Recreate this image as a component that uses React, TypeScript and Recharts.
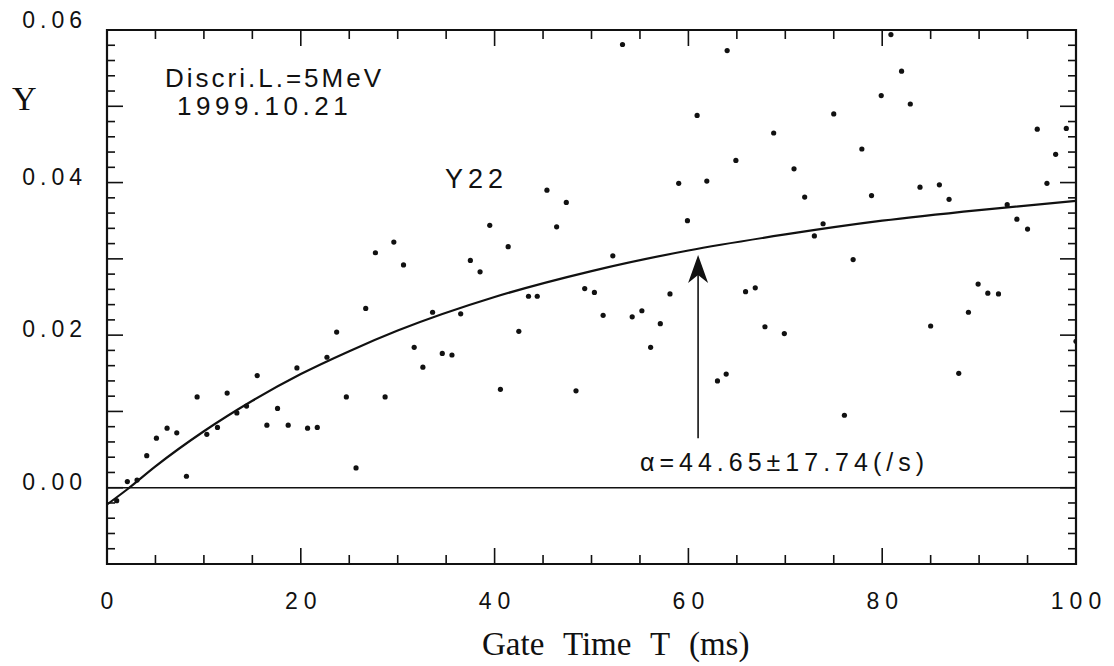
import {
  ComposedChart,
  Line,
  ReferenceArea,
  ReferenceLine,
  Scatter,
  XAxis,
  YAxis,
} from "recharts";

// gate time T (ms) of each measured point
const gateTime = [
  1.0, 2.1, 3.1, 4.1, 5.1, 6.2, 7.2, 8.2, 9.3, 10.3, 11.4, 12.4, 13.4, 14.4, 15.5, 16.5, 17.6,
  18.7, 19.6, 20.7, 21.7, 22.7, 23.7, 24.7, 25.7, 26.7, 27.7, 28.7, 29.6, 30.6, 31.7, 32.6, 33.6,
  34.6, 35.6, 36.5, 37.5, 38.5, 39.5, 40.6, 41.4, 42.5, 43.5, 44.4, 45.4, 46.4, 47.4, 48.4, 49.3,
  50.3, 51.2, 52.2, 53.2, 54.2, 55.2, 56.1, 57.1, 58.1, 59.0, 59.9, 60.9, 61.9, 63.0, 63.9, 64.0,
  64.9, 65.9, 66.9, 67.9, 68.8, 69.9, 70.9, 72.0, 73.0, 73.9, 75.0, 76.1, 77.0, 77.9, 78.9, 79.9,
  80.9, 82.0, 82.9, 83.9, 85.0, 85.9, 86.9, 87.9, 88.9, 89.9, 90.9, 92.0, 92.9, 93.9, 95.0, 96.0,
  97.0, 97.9, 99.0, 100.0,
];

// measured Y22 values
const y22 = [
  -0.0017, 0.0008, 0.001, 0.0042, 0.0065, 0.0078, 0.0072, 0.0015, 0.0119, 0.007, 0.0079, 0.0124,
  0.0098, 0.0107, 0.0147, 0.0082, 0.0104, 0.0082, 0.0157, 0.0078, 0.0079, 0.0171, 0.0204, 0.0119,
  0.0026, 0.0235, 0.0308, 0.0119, 0.0322, 0.0292, 0.0184, 0.0158, 0.023, 0.0176, 0.0174, 0.0228,
  0.0298, 0.0283, 0.0344, 0.0129, 0.0316, 0.0205, 0.0251, 0.0251, 0.039, 0.0342, 0.0374, 0.0127,
  0.0261, 0.0256, 0.0226, 0.0304, 0.0581, 0.0224, 0.0232, 0.0184, 0.0215, 0.0254, 0.0399, 0.035,
  0.0488, 0.0402, 0.014, 0.0149, 0.0573, 0.0429, 0.0257, 0.0262, 0.0211, 0.0465, 0.0202, 0.0418,
  0.0381, 0.033, 0.0346, 0.049, 0.0095, 0.0299, 0.0444, 0.0383, 0.0514, 0.0594, 0.0546, 0.0503,
  0.0394, 0.0212, 0.0397, 0.0378, 0.015, 0.023, 0.0267, 0.0255, 0.0254, 0.0371, 0.0352, 0.0339,
  0.047, 0.0399, 0.0437, 0.0471, 0.0192,
];

// fitted curve
const fitTime = [0, 2, 5, 10, 15, 20, 25, 30, 40, 50, 60, 70, 80, 90, 100];
const fitY = [
  -0.0022, -0.0003, 0.0028, 0.0074, 0.0114, 0.0149, 0.0179, 0.0206, 0.025, 0.0284, 0.0311,
  0.0332, 0.035, 0.0364, 0.0376,
];

const xTicks = Array.from({ length: 21 }, (_, i) => i * 5);
const yTicks = Array.from({ length: 36 }, (_, i) => Math.round((-0.01 + i * 0.002) * 1000) / 1000);
const yLabelled = [0, 0.02, 0.04, 0.06];

// arrow pointing at the curve
const arrowT = 61;
const arrowFrom = 0.0065;
const arrowTo = 0.0305;

const W = 1106;
const H = 658;
const PLOT_W = 969;
const PLOT_H = 534;
const SANS = "'Liberation Sans', Arial, sans-serif";
const SERIF = "'Liberation Serif', 'Times New Roman', serif";
const INK = "#111";

const points = gateTime.map((x, i) => ({ x, y: y22[i] }));
const fit = fitTime.map((x, i) => ({ x, y: fitY[i] }));

function XTick(props: any) {
  const { x, y, payload } = props;
  const v = payload.value as number;
  const major = v % 20 === 0;
  const len = major ? 16 : 9;
  return (
    <g>
      <line x1={x} y1={y} x2={x} y2={y - len} stroke={INK} strokeWidth={1.6} />
      <line x1={x} y1={y - PLOT_H} x2={x} y2={y - PLOT_H + len} stroke={INK} strokeWidth={1.6} />
      {major && (
        <text
          x={x + 3}
          y={y + 45}
          textAnchor="middle"
          fontFamily={SANS}
          fontSize={23}
          letterSpacing={6}
          fill={INK}
        >
          {v}
        </text>
      )}
    </g>
  );
}

function YTick(props: any) {
  const { x, y, payload } = props;
  const v = payload.value as number;
  const major = Math.abs(Math.round(v * 100) - v * 100) < 1e-6;
  const len = major ? 16 : 8;
  const labelled = yLabelled.some((l) => Math.abs(l - v) < 1e-9);
  return (
    <g>
      <line x1={x} y1={y} x2={x + len} y2={y} stroke={INK} strokeWidth={1.6} />
      <line x1={x + PLOT_W} y1={y} x2={x + PLOT_W - len} y2={y} stroke={INK} strokeWidth={1.6} />
      {labelled && (
        <text
          x={x - 20}
          y={y + (v === 0.06 ? -2 : 2)}
          textAnchor="end"
          fontFamily={SANS}
          fontSize={23}
          letterSpacing={5}
          fill={INK}
        >
          {v.toFixed(2)}
        </text>
      )}
    </g>
  );
}

function Arrow(props: any) {
  const { x1, y1, x2, y2 } = props;
  return (
    <g>
      <line x1={x1} y1={y1} x2={x2} y2={y2 + 18} stroke={INK} strokeWidth={1.6} />
      <polygon
        points={`${x2},${y2} ${x2 - 10},${y2 + 28} ${x2},${y2 + 20} ${x2 + 10},${y2 + 28}`}
        fill={INK}
      />
    </g>
  );
}

export default function App() {
  return (
    <div style={{ position: "relative", width: W, height: H, background: "#fff" }}>
      <ComposedChart
        width={W}
        height={H}
        margin={{ top: 22, right: 38, bottom: 42, left: 19 }}
      >
        <XAxis
          dataKey="x"
          type="number"
          domain={[0, 100]}
          ticks={xTicks}
          interval={0}
          tick={XTick}
          tickSize={0}
          tickMargin={0}
          tickLine={false}
          axisLine={false}
          height={60}
          allowDataOverflow
        />
        <YAxis
          dataKey="y"
          type="number"
          domain={[-0.01, 0.06]}
          ticks={yTicks}
          interval={0}
          tick={YTick}
          tickSize={0}
          tickMargin={0}
          tickLine={false}
          axisLine={false}
          width={80}
          allowDataOverflow
        />
        <ReferenceArea
          x1={0}
          x2={100}
          y1={-0.01}
          y2={0.06}
          fill="none"
          stroke={INK}
          strokeWidth={2.2}
          ifOverflow="visible"
        />
        <ReferenceLine y={0} stroke={INK} strokeWidth={1.5} />
        <Line
          data={fit}
          dataKey="y"
          type="monotone"
          stroke={INK}
          strokeWidth={2.2}
          dot={false}
          activeDot={false}
          isAnimationActive={false}
        />
        <Scatter
          data={points}
          dataKey="y"
          fill={INK}
          shape={(p: any) => <circle cx={p.cx} cy={p.cy} r={2.6} fill={INK} />}
          isAnimationActive={false}
        />
        <ReferenceLine
          segment={[
            { x: arrowT, y: arrowFrom },
            { x: arrowT, y: arrowTo },
          ]}
          shape={Arrow}
        />
      </ComposedChart>
      <svg
        width={W}
        height={H}
        style={{ position: "absolute", left: 0, top: 0, pointerEvents: "none" }}
      >
        <text x={157} y={79} fontFamily={SANS} fontSize={26} letterSpacing={3} fill={INK}>
          Discri.L.=5MeV
        </text>
        <text x={169} y={107} fontFamily={SANS} fontSize={26} letterSpacing={4.5} fill={INK}>
          1999.10.21
        </text>
        <text x={437} y={180} fontFamily={SANS} fontSize={27} letterSpacing={5} fill={INK}>
          Y22
        </text>
        <text x={632} y={463} fontFamily={SANS} fontSize={25} letterSpacing={5} fill={INK}>
          α=44.65±17.74(/s)
        </text>
        <text x={4} y={102} fontFamily={SERIF} fontSize={34} fill={INK}>
          Y
        </text>
        <text
          x={474}
          y={647}
          fontFamily={SERIF}
          fontSize={33}
          wordSpacing={11}
          fill={INK}
        >
          Gate Time T (ms)
        </text>
      </svg>
    </div>
  );
}
